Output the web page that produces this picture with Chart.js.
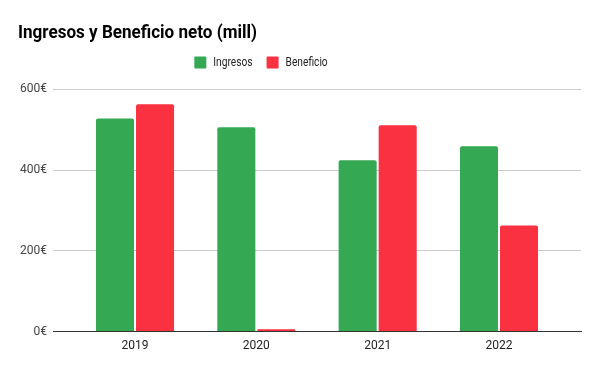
<!DOCTYPE html>
<html>
<head>
<meta charset="utf-8">
<script src="https://cdn.jsdelivr.net/npm/chart.js@4.4.0/dist/chart.umd.min.js"></script>
<style>
  html, body { margin: 0; padding: 0; background: #fff; }
  #wrap { width: 600px; height: 371px; position: relative; }
</style>
</head>
<body>
<div id="wrap"><canvas id="c" width="600" height="371"></canvas></div>
<script>
const categories = ['2019', '2020', '2021', '2022'];
const ingresos = [528, 506, 424, 459];
const beneficio = [563, 6, 511, 263];
const yTicks = [0, 200, 400, 600];
const seriesNames = ['Ingresos', 'Beneficio'];
const seriesColors = ['#34a853', '#fa3140'];
const titleText = 'Ingresos y Beneficio neto (mill)';

const toPoints = arr => arr.map((v, i) => ({ x: i, y: v }));

const customText = {
  id: 'customText',
  afterDraw(chart) {
    const ctx = chart.ctx;
    ctx.save();
    // title
    ctx.font = 'bold 18.5px Roboto';
    ctx.fillStyle = '#000';
    ctx.textBaseline = 'alphabetic';
    ctx.textAlign = 'left';
    const tw = ctx.measureText(titleText).width;
    ctx.fillText(titleText, 18, 37.7, Math.min(tw, 239));
    // legend
    ctx.font = '12px Roboto';
    const box = 12, gapText = 7, gapItem = 14, squeeze = 0.85;
    const widths = seriesNames.map(n => ctx.measureText(n).width * squeeze);
    let total = 0;
    widths.forEach((w, i) => { total += box + gapText + w + (i < widths.length - 1 ? gapItem : 0); });
    let x = 261 - total / 2;
    const cy = 62.5;
    ctx.textBaseline = 'middle';
    seriesNames.forEach((n, i) => {
      ctx.fillStyle = seriesColors[i];
      ctx.beginPath();
      ctx.roundRect(x, cy - box / 2, box, box, 1);
      ctx.fill();
      x += box + gapText;
      ctx.fillStyle = '#222';
      ctx.fillText(n, x, cy + 0.5, widths[i]);
      x += widths[i] + gapItem;
    });
    ctx.restore();
  }
};

new Chart(document.getElementById('c'), {
  type: 'bar',
  data: {
    datasets: [
      { label: seriesNames[0], data: toPoints(ingresos), backgroundColor: seriesColors[0] },
      { label: seriesNames[1], data: toPoints(beneficio), backgroundColor: seriesColors[1] }
    ]
  },
  options: {
    responsive: false,
    animation: false,
    devicePixelRatio: 1,
    layout: { padding: { left: 18, right: 19, top: 89.3, bottom: 11 } },
    datasets: {
      bar: {
        categoryPercentage: 0.66,
        barPercentage: 0.95,
        borderRadius: { topLeft: 2, topRight: 2 },
        borderSkipped: 'start'
      }
    },
    plugins: {
      legend: { display: false },
      tooltip: { enabled: false },
      title: { display: false }
    },
    scales: {
      x: {
        type: 'linear',
        offset: false,
        min: -0.676,
        max: categories.length - 1 + 0.676,
        afterBuildTicks(scale) { scale.ticks = categories.map((c, i) => ({ value: i })); },
        grid: { display: false, drawTicks: false, offset: false },
        border: { display: true, color: '#333', width: 1 },
        ticks: {
          color: '#222',
          font: { family: 'Roboto', size: 12 },
          padding: 7,
          autoSkip: false,
          maxRotation: 0,
          callback: v => categories[v]
        }
      },
      y: {
        min: 0,
        max: 600,
        afterBuildTicks(scale) { scale.ticks = yTicks.map(v => ({ value: v })); },
        afterFit(scale) { scale.width = 35; },
        border: { display: false },
        grid: {
          drawTicks: false,
          color: ctx => (ctx.tick && ctx.tick.value === 0) ? '#333' : '#cccccc',
          lineWidth: 1
        },
        ticks: {
          color: '#444',
          font: { family: 'Roboto', size: 12 },
          padding: 6,
          callback: v => v + '€'
        }
      }
    }
  },
  plugins: [customText]
});
</script>
</body>
</html>
